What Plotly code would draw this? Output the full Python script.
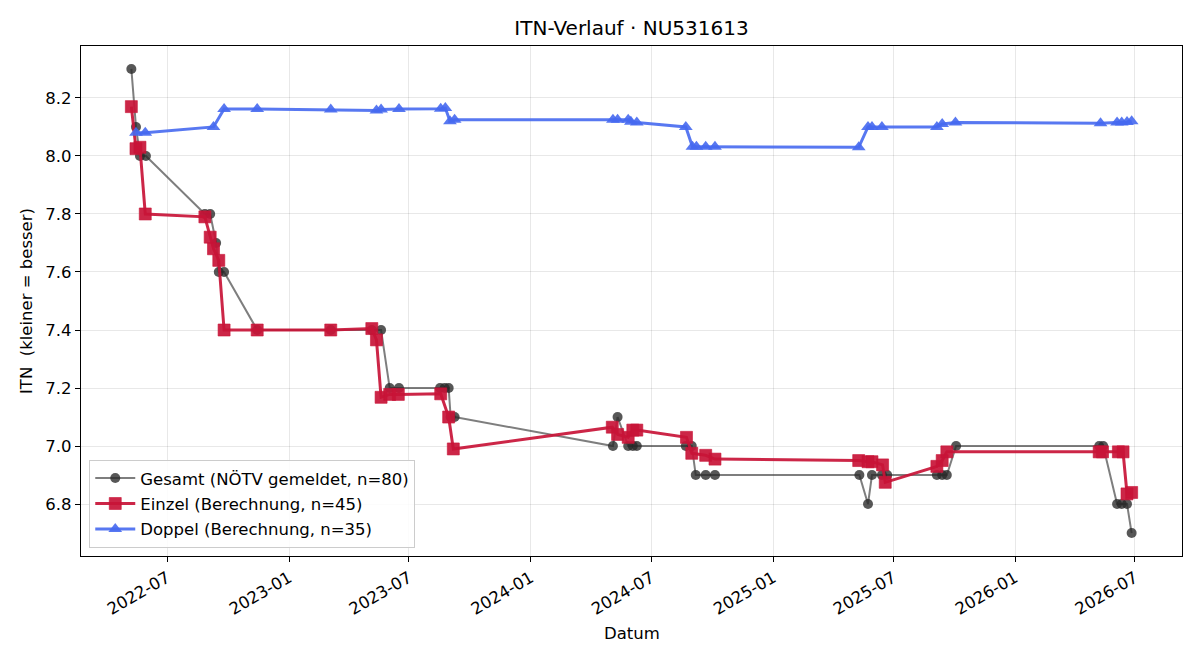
import plotly.graph_objects as go

# ---------------- data ----------------
gesamt_dates = [
    "2022-05-08", "2022-05-15", "2022-05-21", "2022-05-30", "2022-08-27", "2022-09-04",
    "2022-09-13", "2022-09-17", "2022-09-25", "2022-11-14", "2023-03-05", "2023-05-06",
    "2023-05-20", "2023-06-02", "2023-06-16", "2023-08-17", "2023-08-24", "2023-08-30",
    "2023-09-02", "2023-09-08", "2024-05-04", "2024-05-11", "2024-05-27", "2024-06-03",
    "2024-06-09", "2024-08-22", "2024-08-31", "2024-09-06", "2024-09-21", "2024-10-05",
    "2025-05-11", "2025-05-24", "2025-05-30", "2025-06-14", "2025-06-22", "2025-09-05",
    "2025-09-13", "2025-09-20", "2025-10-04", "2026-05-08", "2026-05-14", "2026-06-04",
    "2026-06-11", "2026-06-19", "2026-06-26",
]
gesamt_vals = [
    8.30, 8.10, 8.00, 8.00, 7.80, 7.80,
    7.70, 7.60, 7.60, 7.40, 7.40, 7.40,
    7.40, 7.20, 7.20, 7.20, 7.20, 7.20,
    7.10, 7.10, 7.00, 7.10, 7.00, 7.00,
    7.00, 7.00, 7.00, 6.90, 6.90, 6.90,
    6.90, 6.80, 6.90, 6.90, 6.90, 6.90,
    6.90, 6.90, 7.00, 7.00, 7.00, 6.80,
    6.80, 6.80, 6.70,
]

einzel_dates = [
    "2022-05-08", "2022-05-15", "2022-05-21", "2022-05-29", "2022-08-27", "2022-09-04",
    "2022-09-09", "2022-09-17", "2022-09-25", "2022-11-14", "2023-03-05", "2023-05-06",
    "2023-05-13", "2023-05-20", "2023-06-02", "2023-06-15", "2023-08-18", "2023-08-30",
    "2023-09-06", "2024-05-03", "2024-05-11", "2024-05-27", "2024-06-03", "2024-06-09",
    "2024-08-23", "2024-08-31", "2024-09-21", "2024-10-05", "2025-05-10", "2025-05-24",
    "2025-05-30", "2025-06-15", "2025-06-19", "2025-09-05", "2025-09-13", "2025-09-20",
    "2026-05-08", "2026-05-13", "2026-06-06", "2026-06-13", "2026-06-19", "2026-06-26",
]
einzel_vals = [
    8.17, 8.025, 8.03, 7.80, 7.79, 7.72,
    7.68, 7.64, 7.40, 7.40, 7.40, 7.405,
    7.366, 7.168, 7.178, 7.178, 7.18, 7.10,
    6.99, 7.065, 7.04, 7.03, 7.055, 7.055,
    7.03, 6.975, 6.968, 6.955, 6.95, 6.946,
    6.946, 6.935, 6.875, 6.93, 6.95, 6.98,
    6.98, 6.98, 6.98, 6.98, 6.835, 6.84,
]

doppel_dates = [
    "2022-05-15", "2022-05-29", "2022-09-09", "2022-09-25", "2022-11-14", "2023-03-05",
    "2023-05-13", "2023-05-20", "2023-06-16", "2023-08-18", "2023-08-25", "2023-09-01",
    "2023-09-08", "2024-05-04", "2024-05-11", "2024-05-27", "2024-05-31", "2024-06-09",
    "2024-08-22", "2024-09-01", "2024-09-07", "2024-09-21", "2024-10-05", "2025-05-10",
    "2025-05-24", "2025-05-30", "2025-06-14", "2025-09-05", "2025-09-13", "2025-10-03",
    "2026-05-10", "2026-06-04", "2026-06-11", "2026-06-19", "2026-06-26",
]
doppel_vals = [
    8.08, 8.08, 8.10, 8.162, 8.162, 8.16,
    8.157, 8.16, 8.162, 8.163, 8.165, 8.12,
    8.125, 8.125, 8.125, 8.125, 8.118, 8.115,
    8.10, 8.032, 8.032, 8.032, 8.032, 8.03,
    8.10, 8.10, 8.10, 8.10, 8.11, 8.115,
    8.113, 8.115, 8.115, 8.117, 8.12,
]

series_names = [
    "Gesamt (NÖTV gemeldet, n=80)",
    "Einzel (Berechnung, n=45)",
    "Doppel (Berechnung, n=35)",
]
title_text = "ITN-Verlauf · NU531613"
x_label = "Datum"
y_label = "ITN\u00a0 (kleiner = besser)"
y_ticks = [6.8, 7.0, 7.2, 7.4, 7.6, 7.8, 8.0, 8.2]

# ---------------- figure ----------------
FONT = "DejaVu Sans"
W, H = 1200, 660
L, R, T, B = 81, 18, 46, 104

fig = go.Figure()

fig.add_trace(go.Scatter(
    x=gesamt_dates, y=gesamt_vals, mode="lines+markers", name=series_names[0],
    line=dict(color="rgba(40,40,40,0.6)", width=2),
    marker=dict(symbol="circle", size=10, color="rgba(40,40,40,0.78)",
                line=dict(width=0)),
    legendgroup="g1",
))
fig.add_trace(go.Scatter(
    x=einzel_dates, y=einzel_vals, mode="lines+markers", name=series_names[1],
    line=dict(color="rgba(200,20,55,0.92)", width=3),
    marker=dict(symbol="square", size=12, color="rgba(200,20,55,0.92)",
                line=dict(width=1, color="rgba(200,20,55,0.6)")),
    legendgroup="g2",
))
fig.add_trace(go.Scatter(
    x=doppel_dates, y=doppel_vals, mode="lines+markers", name=series_names[2],
    line=dict(color="rgba(70,105,240,0.9)", width=3),
    marker=dict(symbol="triangle-up", size=12, color="rgba(70,105,240,0.9)",
                line=dict(width=0)),
    legendgroup="g3",
))

axis_common = dict(
    showline=True, linecolor="black", linewidth=1.3, mirror=True,
    ticks="outside", ticklen=5, tickwidth=1.3, tickcolor="black",
    showgrid=True, gridcolor="rgba(0,0,0,0.09)", gridwidth=1,
    zeroline=False,
    tickfont=dict(family=FONT, size=16.5, color="black"),
)

fig.update_layout(
    width=W, height=H,
    margin=dict(l=L, r=R, t=T, b=B),
    paper_bgcolor="white", plot_bgcolor="white",
    font=dict(family=FONT, size=16.5, color="black"),
    title=dict(text=title_text, x=(L + (W - R)) / 2 / W, xanchor="center",
               y=1 - 28 / H, yanchor="middle",
               font=dict(family=FONT, size=20, color="black")),
    xaxis=dict(
        **axis_common,
        type="date",
        range=["2022-02-21", "2026-09-10"],
        tick0="2022-07-01", dtick="M6", tickformat="%Y-%m",
        tickangle=-30,
    ),
    yaxis=dict(
        **axis_common,
        range=[6.621, 8.379],
        tickvals=y_ticks,
        ticktext=[f"{v:.1f}" for v in y_ticks],
    ),
    showlegend=True,
    legend=dict(
        x=0.0075, y=0.016, xanchor="left", yanchor="bottom",
        bgcolor="rgba(255,255,255,0.85)", bordercolor="#cccccc", borderwidth=1,
        font=dict(family=FONT, size=16.5, color="black"),
        traceorder="grouped", tracegroupgap=1,
        itemwidth=40,
    ),
    annotations=[
        dict(text=x_label, xref="paper", yref="paper",
             x=0.5, y=-(633 - (H - B)) / (H - T - B),
             xanchor="center", yanchor="middle", showarrow=False,
             font=dict(family=FONT, size=16.5, color="black")),
        dict(text=y_label, xref="paper", yref="paper",
             x=-(L - 26) / (W - L - R), y=0.5, textangle=-90,
             xanchor="center", yanchor="middle", showarrow=False,
             font=dict(family=FONT, size=16.5, color="black")),
    ],
)

fig.write_html("out.html")
